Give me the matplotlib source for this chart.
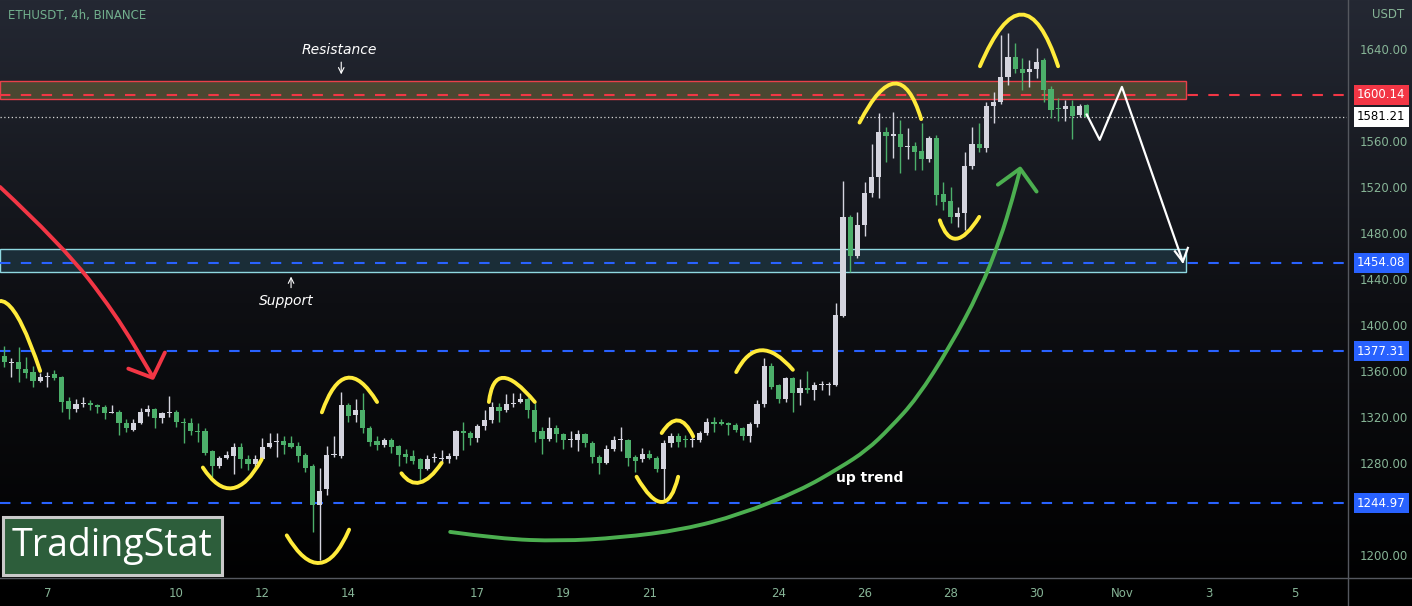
import matplotlib
matplotlib.use('Agg')
import matplotlib.pyplot as plt
import numpy as np
from matplotlib.path import Path
from matplotlib.patches import PathPatch, Rectangle
from matplotlib.colors import LinearSegmentedColormap
from matplotlib.lines import Line2D

# ETHUSDT 4h candles (index 0 = Oct 6 00:00)
opens = [1373, 1367, 1368, 1362, 1359, 1351, 1355, 1357, 1355, 1334,
         1327, 1331, 1332, 1330, 1329, 1323, 1324, 1315, 1309, 1315,
         1324, 1327, 1319, 1323, 1324, 1316, 1315, 1308, 1308, 1290,
         1277, 1284, 1286, 1294, 1283, 1279, 1283, 1294, 1298, 1299,
         1297, 1295, 1287, 1277, 1243, 1257, 1287, 1286, 1330, 1322,
         1326, 1310, 1299, 1296, 1300, 1295, 1288, 1286, 1283, 1275,
         1284, 1283.5, 1283, 1286, 1308, 1306, 1302, 1312, 1317, 1329,
         1326, 1331, 1333, 1336, 1326, 1308, 1301, 1310, 1305, 1300,
         1300, 1305, 1297, 1285, 1280, 1292, 1300, 1300, 1285, 1283,
         1288, 1284, 1275, 1297, 1303, 1300.5, 1300, 1300, 1306, 1316,
         1316, 1315, 1313, 1310, 1303, 1314, 1331, 1364, 1348, 1336,
         1354, 1341, 1345, 1343, 1348, 1348, 1348, 1408, 1494, 1460,
         1487, 1515, 1529, 1568, 1564, 1566, 1555, 1556, 1551, 1544,
         1563, 1514, 1508, 1494, 1497, 1538, 1557, 1554, 1590, 1594,
         1616, 1633, 1623, 1620, 1623, 1630, 1605, 1589, 1588, 1590,
         1583, 1591]
highs = [1382, 1371, 1381, 1372, 1364, 1358, 1359, 1361, 1356, 1337,
         1336, 1337, 1335, 1331, 1330, 1330, 1326, 1318, 1318, 1328,
         1330, 1328, 1324, 1338, 1326, 1319, 1319, 1315, 1310, 1291,
         1286, 1290, 1297, 1297, 1287, 1287, 1302, 1306, 1306, 1303,
         1303, 1298, 1289, 1279, 1276, 1295, 1303, 1342, 1332, 1336,
         1341, 1312, 1303, 1302, 1302, 1296, 1292, 1291, 1284, 1287,
         1289, 1291, 1289, 1309, 1316, 1308, 1314, 1326, 1333, 1332,
         1340, 1341, 1341, 1337, 1332, 1311, 1320, 1313, 1306, 1308,
         1309, 1306, 1299, 1287, 1296, 1303, 1311, 1301, 1287, 1293,
         1291, 1286, 1300, 1306, 1306, 1304, 1303, 1308, 1319, 1320,
         1318, 1316, 1315, 1311, 1316, 1335, 1371, 1367, 1349, 1355,
         1355, 1353, 1360, 1350, 1351, 1350, 1419, 1525, 1496, 1498,
         1524, 1557, 1584, 1572, 1585, 1578, 1571, 1559, 1576, 1564,
         1565, 1524, 1520, 1503, 1550, 1572, 1576, 1594, 1603, 1652,
         1654, 1645, 1632, 1630, 1641, 1632, 1608, 1597, 1596, 1596,
         1592, 1592]
lows = [1363, 1355, 1350, 1354, 1346, 1350, 1346, 1352, 1324, 1318,
        1324, 1329, 1326, 1323, 1318, 1323, 1304, 1307, 1308, 1314,
        1321, 1310, 1315, 1320, 1311, 1297, 1304, 1298, 1287, 1268,
        1276, 1283, 1270, 1276, 1274, 1275, 1283, 1293, 1285, 1288,
        1293, 1281, 1272, 1220, 1196, 1252, 1285, 1284, 1316, 1316,
        1306, 1295, 1291, 1294, 1289, 1277, 1280, 1279, 1265, 1274,
        1281, 1280, 1280, 1283, 1291, 1296, 1298, 1309, 1315, 1316,
        1324, 1329, 1332, 1319, 1298, 1288, 1299, 1298, 1292, 1294,
        1290, 1294, 1280, 1270, 1279, 1290, 1290, 1277, 1272, 1281,
        1283, 1272, 1246, 1294, 1294, 1294, 1294, 1298, 1304, 1307,
        1313, 1304, 1307, 1300, 1298, 1311, 1329, 1344, 1332, 1333,
        1324, 1330, 1341, 1335, 1343, 1339, 1347, 1407, 1446, 1458,
        1477, 1511, 1510, 1542, 1545, 1532, 1544, 1535, 1535, 1542,
        1504, 1500, 1489, 1485, 1483, 1536, 1550, 1550, 1576, 1592,
        1609, 1619, 1604, 1607, 1615, 1594, 1580, 1577, 1577, 1562,
        1581, 1580]
closes = [1368, 1368, 1362, 1358, 1351, 1355, 1356, 1354, 1333, 1327,
          1331, 1332, 1330, 1329, 1323, 1324, 1315, 1310, 1315, 1324,
          1327, 1319, 1323, 1324, 1316, 1315, 1308, 1307, 1289, 1277,
          1284, 1287, 1294, 1283, 1279, 1283, 1294, 1297, 1298.5, 1296,
          1294, 1286, 1276, 1243, 1256, 1287, 1288, 1330, 1321, 1326,
          1310, 1298, 1296, 1300, 1294, 1287, 1285, 1282, 1275, 1283,
          1284.5, 1284, 1286, 1308, 1306, 1302, 1312, 1317, 1329, 1325,
          1331, 1332, 1336, 1326, 1307, 1301, 1310, 1305, 1300, 1300.5,
          1305, 1297, 1285, 1280, 1292, 1300, 1300.5, 1284, 1282, 1288,
          1284, 1275, 1297, 1303, 1298, 1300, 1300.5, 1306, 1316, 1314,
          1314, 1313, 1309, 1303, 1314, 1331, 1364, 1346, 1336, 1354,
          1341, 1345, 1343, 1348, 1348.5, 1348.5, 1409, 1494, 1460, 1487,
          1515, 1529, 1568, 1564, 1566, 1555, 1556, 1550, 1544, 1563,
          1513, 1507, 1494, 1497, 1538, 1557, 1554, 1590, 1594, 1616,
          1633, 1623, 1619, 1623, 1629, 1604, 1587, 1588, 1590, 1582,
          1590, 1581.21]

day_ticks = [6, 24, 36, 48, 66, 78, 90, 108, 120, 132, 144, 156, 168, 180]
day_labels = ['7', '10', '12', '14', '17', '19', '21', '24', '26', '28', '30', 'Nov', '3', '5']
# 1600 and 1240 are hidden behind the price tags
price_ticks = [1200, 1280, 1320, 1360, 1400, 1440, 1480, 1520, 1560, 1640]

resistance = 1600.14
last_price = 1581.21
blue_levels = [1454.08, 1377.31, 1244.97]
resist_zone = [1596.2, 1612.4]
support_zone = [1445.8, 1465.8]
zone_end = 164.9

# hand drawn marks: (start, turn, end) in (candle, price)
yellow_marks = [
    [(-3.0, 1395), (0.3, 1419), (5.0, 1360)],
    [(27.7, 1276), (31.8, 1258), (35.9, 1283)],
    [(39.4, 1217), (44.0, 1193), (48.1, 1222)],
    [(44.3, 1324), (47.8, 1354), (52.0, 1333)],
    [(55.4, 1271), (58.0, 1263), (61.0, 1280)],
    [(67.6, 1333), (69.6, 1354), (74.0, 1333)],
    [(88.2, 1268), (91.7, 1246), (94.0, 1268)],
    [(91.7, 1306), (94.0, 1317), (96.1, 1303)],
    [(102.1, 1359), (105.6, 1378), (110.0, 1361)],
    [(119.3, 1576), (124.2, 1610), (127.9, 1579)],
    [(130.5, 1491), (132.8, 1475), (136.0, 1494)],
    [(136.1, 1625), (141.9, 1670), (147.0, 1625)],
]
red_x = [-0.6, 8.0, 15.5, 20.7]
red_y = [1520, 1470, 1410, 1355]
red_head = [(17.3, 1362), (20.7, 1354), (22.4, 1376)]
green_x = [62.2, 69.1, 77.5, 85.9, 94.7, 102.6, 111.0, 116.6, 120.3, 123.5,
           127.3, 131.9, 136.1, 138.9, 140.7, 141.7]
green_y = [1220, 1214, 1212, 1215, 1222, 1235, 1256, 1276, 1291, 1310,
           1336, 1381, 1430, 1474, 1511, 1535]
green_head = [(138.6, 1522), (141.7, 1536), (144.0, 1516)]
white_x = [151.0, 152.8, 155.9, 164.4]
white_y = [1583, 1561, 1607, 1455]
white_head = [(163.3, 1464), (164.4, 1455), (165.1, 1467)]


def smooth_path(xs, ys):
    # quadratic bezier through the midpoints, drawn by matplotlib
    pts = list(zip(xs, ys))
    verts = [pts[0]]
    codes = [Path.MOVETO]
    for k in range(1, len(pts) - 1):
        mid = ((pts[k][0] + pts[k + 1][0]) / 2, (pts[k][1] + pts[k + 1][1]) / 2)
        verts += [pts[k], mid]
        codes += [Path.CURVE3, Path.CURVE3]
    verts.append(pts[-1])
    codes.append(Path.LINETO)
    return Path(verts, codes)


W, H = 1412, 606
fig = plt.figure(figsize=(W / 100, H / 100), dpi=100)

bg = fig.add_axes([0, 0, 1, 1], zorder=-5)
grad = np.linspace(0, 1, 256).reshape(-1, 1)
bg.imshow(grad, aspect='auto', extent=[0, 1, 0, 1],
          cmap=LinearSegmentedColormap.from_list('bg', ['#242833', '#0e0f13', '#000000']))
bg.axis('off')

ax = fig.add_axes([0, 29 / H, 1347 / W, 577 / H])
ax.set_facecolor('none')
ax.set_xlim(-0.6, 187.3)
ax.set_ylim(1180.8, 1682.6)
for s in ax.spines.values():
    s.set_visible(False)

# zones
ax.add_patch(Rectangle((-0.6, resist_zone[0]), zone_end + 0.6, resist_zone[1] - resist_zone[0],
                       facecolor='#5a5535', alpha=0.75, edgecolor='none', zorder=1))
ax.add_patch(Rectangle((-0.6, resist_zone[0]), zone_end + 0.6, resist_zone[1] - resist_zone[0],
                       facecolor='none', edgecolor='#e8404a', lw=1, zorder=2))
ax.add_patch(Rectangle((-0.6, support_zone[0]), zone_end + 0.6, support_zone[1] - support_zone[0],
                       facecolor='#22404e', alpha=0.6, edgecolor='none', zorder=1))
ax.add_patch(Rectangle((-0.6, support_zone[0]), zone_end + 0.6, support_zone[1] - support_zone[0],
                       facecolor='none', edgecolor='#8fd8e0', lw=1, zorder=2))

for lv in blue_levels:
    ax.axhline(lv, color='#2962ff', lw=1.5, ls=(0, (5, 5)), zorder=2)
ax.axhline(resistance, color='#f23645', lw=1.5, ls=(0, (5, 5)), zorder=2)
ax.axhline(last_price, color='#d8d8d8', lw=0.9, ls=(0, (1, 2)), zorder=2)

# candles
o = np.array(opens, dtype=float)
c = np.array(closes, dtype=float)
x = np.arange(len(c))
col = np.where(c >= o, '#d4d4de', '#4caf6a')
ax.vlines(x, lows, highs, colors=col, lw=1, zorder=3)
ax.bar(x, np.maximum(np.abs(c - o), 0.9), bottom=np.minimum(o, c), width=0.72,
       color=col, linewidth=0, zorder=4)

# drawings
for s0, m, e in yellow_marks:
    s0, m, e = np.array(s0), np.array(m), np.array(e)
    ctrl = 2 * m - (s0 + e) / 2
    p = Path([s0, ctrl, e], [Path.MOVETO, Path.CURVE3, Path.CURVE3])
    ax.add_patch(PathPatch(p, fill=False, ec='#ffeb3b', lw=2.8, capstyle='round', zorder=6))

ax.add_patch(PathPatch(smooth_path(red_x, red_y), fill=False, ec='#f23645', lw=2.8,
                       capstyle='round', zorder=6))
ax.plot(*zip(*red_head), color='#f23645', lw=2.8, solid_capstyle='round', solid_joinstyle='round', zorder=6)
ax.add_patch(PathPatch(smooth_path(green_x, green_y), fill=False, ec='#4caf50', lw=2.8,
                       capstyle='round', zorder=6))
ax.plot(*zip(*green_head), color='#4caf50', lw=2.8, solid_capstyle='round', solid_joinstyle='round', zorder=6)
ax.plot(white_x, white_y, color='white', lw=1.6, zorder=6)
ax.plot(*zip(*white_head), color='white', lw=1.6, zorder=6)

ax.text(46.7, 1639, 'Resistance', color='white', style='italic', fontsize=10,
        ha='center', va='center', zorder=7)
ax.annotate('', xy=(47.0, 1615.5), xytext=(47.0, 1631),
            arrowprops=dict(arrowstyle='->', color='white', lw=0.8), zorder=7)
ax.text(39.3, 1420.8, 'Support', color='white', style='italic', fontsize=10,
        ha='center', va='center', zorder=7)
ax.annotate('', xy=(40.0, 1444.5), xytext=(40.0, 1430),
            arrowprops=dict(arrowstyle='->', color='white', lw=0.8), zorder=7)
ax.text(120.7, 1267, 'up trend', color='white', fontweight='bold', fontsize=10,
        ha='center', va='center', zorder=7)

# axes labels
ax.yaxis.tick_right()
ax.set_yticks(price_ticks)
ax.set_yticklabels(['%.2f' % p for p in price_ticks])
ax.set_xticks(day_ticks)
ax.set_xticklabels(day_labels)
ax.tick_params(axis='y', length=0, pad=9, labelcolor='#86b496', labelsize=8.5)
ax.tick_params(axis='x', length=0, pad=7, labelcolor='#86b496', labelsize=8.5)


def tag(price, text, fc, tc):
    ax.text(1.0075, price, text, transform=ax.get_yaxis_transform(), va='center', ha='left',
            fontsize=8.5, color=tc, clip_on=False, zorder=10,
            bbox=dict(boxstyle='square,pad=0.3', fc=fc, ec='none'))


tag(resistance, '1600.14', '#f23645', 'white')
tag(last_price, '1581.21', 'white', 'black')
for lv in blue_levels:
    tag(lv, '%.2f' % lv, '#2962ff', 'white')

fig.text(1372 / W, 1 - 14 / H, 'USDT', color='#86b496', fontsize=8.5, va='center')
fig.text(8 / W, 1 - 16 / H, 'ETHUSDT, 4h, BINANCE', color='#72b08e', fontsize=8.5, va='center')

fig.add_artist(Line2D([0, 1], [28.5 / H, 28.5 / H], color='#55585f', lw=1))
fig.add_artist(Line2D([1347.5 / W, 1347.5 / W], [0, 1], color='#55585f', lw=1))

# logo
fig.add_artist(Rectangle((3 / W, 31 / H), 219 / W, 58 / H, transform=fig.transFigure,
                         facecolor='#2d5e3b', edgecolor='#c9c9c9', lw=2.2))
fig.text(112 / W, 1 - 546 / H, 'TradingStat', color='white', fontsize=27,
         ha='center', va='center', family='Open Sans')

fig.savefig('out.png', dpi=100)
